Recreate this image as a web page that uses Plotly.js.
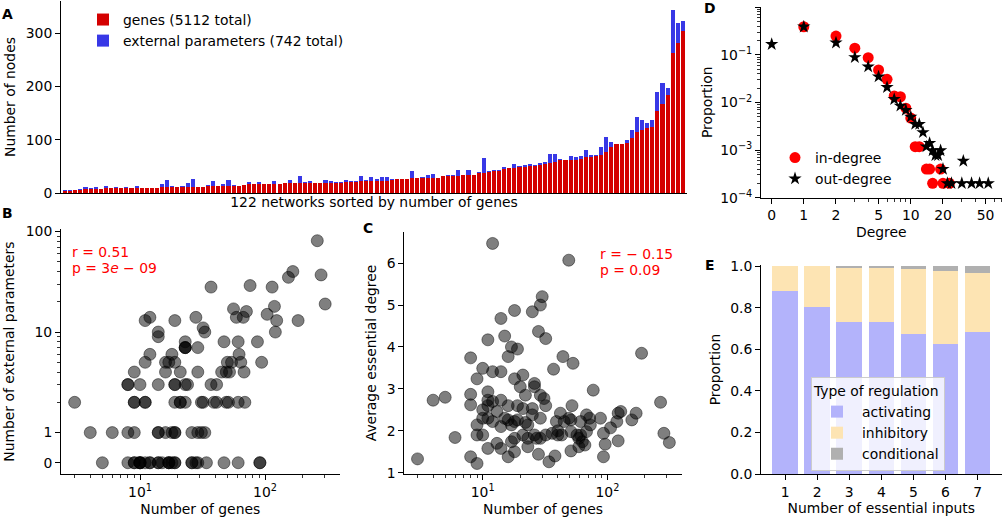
<!DOCTYPE html>
<html><head><meta charset="utf-8">
<script src="https://cdn.plot.ly/plotly-3.0.1.min.js"></script>
<style>html,body{margin:0;padding:0;background:#fff}#chart{width:1003px;height:523px}</style>
</head><body><div id="chart"></div>
<script>
// ---- Panel A / B data: 122 networks sorted by number of genes ----
const genes = [3,4,5,6,8,8,8,8,9,9,9,9,9,9,10,10,10,10,10,11,11,11,11,11,12,12,12,12,14,14,14,14,14,14,14,15,16,16,16,17,17,17,17,18,18,18,19,19,19,19,
19,19,19,19,19,21,21,21,23,23,23,23,23,23,24,26,26,26,28,28,29,29,29,29,31,31,32,32,33,33,34,37,37,39,41,41,45,47,47,49,49,50,51,52,54,56,59,61,61,
61,62,64,67,68,69,71,76,87,91,91,94,104,114,119,121,124,154,167,184,262,281,303];
const extParams = [2,1,0,1,3,1,3,0,4,1,2,0,2,0,3,0,0,0,0,5,13,2,0,2,6,14,0,0,1,9,0,3,10,1,0,0,4,1,5,0,0,5,0,1,6,0,13,2,3,0,
0,5,3,1,1,4,2,2,8,2,7,3,7,7,3,0,0,1,14,0,1,4,7,0,1,2,2,11,1,10,0,3,28,2,3,2,4,0,8,2,4,5,2,4,5,17,14,2,0,
8,6,5,14,4,2,16,29,8,0,0,5,15,28,18,10,13,35,40,13,81,37,19];

// ---- Panel C data ----
const cGenes = [3,4,5,6,8,8,8,8,9,9,9,9,10,10,10,10,11,11,11,11,12,12,12,13,14,14,14,14,14,15,16,16,16,16,17,18,18,18,18,19,19,19,20,21,21,21,22,22,23,23,
25,26,26,25,26,27,28,28,29,30,29,29,31,32,32,32,34,37,38,39,40,40,44,51,51,52,53,49,51,59,61,63,66,61,68,73,68,77,88,93,93,96,106,119,122,128,122,157,170,188,
267,284,314,36,42,43,45,49,57,59,72,18,17,15,13,11,23,25,29,12,11,17];
const cDegree = [1.33,2.73,2.8,1.84,3.74,2.87,2.62,1.38,3.24,2.14,1.9,1.22,3.49,1.9,2.5,2.3,4.17,2.93,2.73,2.3,6.47,3.41,2.7,1.7,4.68,3.41,2.73,2.1,1.58,4.26,3.77,2.6,2.26,1.38,4.0,4.87,3.24,1.5,1.82,3.95,2.6,2.26,3.05,3.33,2.53,1.9,2.85,2.2,1.82,1.62,
4.84,3.13,3.05,2.38,1.9,1.82,1.44,4.37,5.0,5.2,2.85,2.3,2.77,4.2,2.6,1.9,1.26,3.47,1.4,2.22,1.9,2.0,3.77,2.26,1.52,2.6,3.61,6.07,1.98,1.82,1.9,1.74,1.66,2.22,2.38,2.14,1.98,2.97,2.3,1.38,1.94,1.68,2.07,2.22,2.42,2.46,1.76,2.26,2.42,3.85,
2.68,1.94,1.72,1.94,2.42,1.9,2.22,2.3,1.9,1.62,2.3,2.22,2.14,2.3,2.46,2.6,2.14,2.53,1.82,2.22,1.58,1.74];

// ---- Panel D data: degree distributions ----
const inDeg  = [1,2,3,4,5,6,7,8,9,10,11,12,14,15,19,16,20,23];
const inProp = [0.39,0.249,0.138,0.0873,0.0482,0.0307,0.0137,0.0132,0.0076,0.0047,0.00118,0.00118,0.0004,0.0004,0.0004,0.0002,0.0002,0.0002];
const outDeg  = [0,1,2,3,4,5,6,7,8,9,10,11,12,13,14,15,16,17,18,19,20,22,24,31,30,37,44,53];
const outProp = [0.167,0.39,0.18,0.089,0.0566,0.0349,0.0209,0.0117,0.0085,0.0069,0.005,0.0035,0.0035,0.00235,0.00118,0.0014,0.00098,0.00078,0.00078,0.00098,0.0004,0.0002,0.0002,0.00059,0.0002,0.0002,0.0002,0.0002];

// ---- Panel E data ----
const nInputs = [1,2,3,4,5,6,7];
const activating  = [0.878,0.801,0.731,0.732,0.675,0.625,0.683];
const inhibitory  = [0.122,0.199,0.261,0.260,0.309,0.349,0.285];
const conditional = [0.000,0.000,0.008,0.008,0.016,0.026,0.032];

// ---- helpers ----
const W = 1003, H = 523;
const px = x => x / W, py = y => 1 - y / H;
const symT = v => v <= 1 ? 0.3 * v : 0.3 + Math.log10(v);
const FONT = 'DejaVu Sans, sans-serif';
const FS = 13.9;
const idx = genes.map((_, i) => i);

const scatterMarker = {size: 12, color: 'rgba(0,0,0,0.5)', line: {color: 'rgba(0,0,0,0.45)', width: 1}};

const traces = [
  {type: 'bar', x: idx, y: genes, xaxis: 'x', yaxis: 'y', width: 0.8, name: 'genes (5112 total)',
   marker: {color: '#d40000'}, legend: 'legend'},
  {type: 'bar', x: idx, y: extParams, xaxis: 'x', yaxis: 'y', width: 0.8, name: 'external parameters (742 total)',
   marker: {color: '#3838e6'}, legend: 'legend'},
  {type: 'scatter', mode: 'markers', x: genes, y: extParams.map(symT), xaxis: 'x2', yaxis: 'y2',
   marker: scatterMarker, showlegend: false},
  {type: 'scatter', mode: 'markers', x: cGenes, y: cDegree, xaxis: 'x3', yaxis: 'y3',
   marker: scatterMarker, showlegend: false},
  {type: 'scatter', mode: 'markers', x: inDeg.map(symT), y: inProp, xaxis: 'x4', yaxis: 'y4', name: 'in-degree',
   marker: {symbol: 'circle', size: 11, color: '#ff0000'}, legend: 'legend2'},
  {type: 'scatter', mode: 'markers', x: outDeg.map(symT), y: outProp, xaxis: 'x4', yaxis: 'y4', name: 'out-degree',
   marker: {symbol: 'star', size: 10, color: '#000000'}, legend: 'legend2'},
  {type: 'bar', x: nInputs, y: activating, xaxis: 'x5', yaxis: 'y5', width: 0.8, name: 'activating',
   marker: {color: '#b3b3fb'}, legend: 'legend3'},
  {type: 'bar', x: nInputs, y: inhibitory, xaxis: 'x5', yaxis: 'y5', width: 0.8, name: 'inhibitory',
   marker: {color: '#fde4b3'}, legend: 'legend3'},
  {type: 'bar', x: nInputs, y: conditional, xaxis: 'x5', yaxis: 'y5', width: 0.8, name: 'conditional',
   marker: {color: '#b0b0b0'}, legend: 'legend3'}
];

const baseAx = {showline: true, linecolor: '#000', linewidth: 1, mirror: false, showgrid: false, zeroline: false,
  ticks: 'outside', ticklen: 5, tickwidth: 1, tickcolor: '#000', automargin: false,
  tickfont: {family: FONT, size: FS, color: '#000'}};
const ttl = (t, s) => ({text: t, font: {family: FONT, size: FS, color: '#000'}, standoff: s});
const minorOf = vals => ({tickmode: 'array', tickvals: vals, ticks: 'outside', ticklen: 3, tickwidth: 0.8, tickcolor: '#000', showgrid: false});

const logMinorGenes = [3,4,5,6,7,8,9,20,30,40,50,60,70,80,90,200,300];
const bMinor = [2,3,4,5,6,7,8,9,20,30,40,50,60,70,80,90].map(symT);
const dXMinor = [3,4,6,7,8,9,30,40,60,70].map(symT);
const dYMinor = [];
[1e-4,1e-3,1e-2,1e-1].forEach(d => { for (let k = 2; k <= 9; k++) dYMinor.push(k * d); });

const layout = {
  width: W, height: H, margin: {l: 0, r: 0, t: 0, b: 0}, paper_bgcolor: '#fff', plot_bgcolor: 'rgba(0,0,0,0)',
  barmode: 'stack', bargap: 0.2, font: {family: FONT, size: FS, color: '#000'},
  xaxis: Object.assign({}, baseAx, {domain: [px(61), px(687)], anchor: 'y', range: [-0.8, 121.8],
    showticklabels: false, ticks: '', title: ttl('122 networks sorted by number of genes', 4)}),
  yaxis: Object.assign({}, baseAx, {domain: [py(193), py(1)], anchor: 'x', range: [0, 360],
    tickvals: [0, 100, 200, 300], title: ttl('Number of nodes', 6)}),
  xaxis2: Object.assign({}, baseAx, {domain: [px(61), px(339.5)], anchor: 'y2', type: 'log', range: [0.368, 2.596],
    tickvals: [10, 100], ticktext: ['10<sup>1</sup>', '10<sup>2</sup>'], minor: minorOf(logMinorGenes),
    title: ttl('Number of genes', 5)}),
  yaxis2: Object.assign({}, baseAx, {domain: [py(474), py(229.3)], anchor: 'x2', range: [-0.112, 2.322],
    tickvals: [0, 1, 10, 100].map(symT), ticktext: ['0', '1', '10', '100'], minor: minorOf(bMinor),
    title: ttl('Number of external parameters', 7)}),
  xaxis3: Object.assign({}, baseAx, {domain: [px(404.3), px(681.7)], anchor: 'y3', type: 'log', range: [0.371, 2.596],
    tickvals: [10, 100], ticktext: ['10<sup>1</sup>', '10<sup>2</sup>'], minor: minorOf(logMinorGenes),
    title: ttl('Number of genes', 5)}),
  yaxis3: Object.assign({}, baseAx, {domain: [py(474.3), py(231.7)], anchor: 'x3', range: [0.962, 6.75],
    tickvals: [1, 2, 3, 4, 5, 6], title: ttl('Average essential degree', 6)}),
  xaxis4: Object.assign({}, baseAx, {domain: [px(761), px(1001.7)], anchor: 'y4', range: [-0.1, 2.15],
    tickvals: [0, 1, 2, 5, 10, 20, 50].map(symT), ticktext: ['0', '1', '2', '5', '10', '20', '50'],
    minor: minorOf(dXMinor), title: ttl('Degree', 4)}),
  yaxis4: Object.assign({}, baseAx, {domain: [py(197.7), py(6.7)], anchor: 'x4', type: 'log', range: [-4, 0.012],
    tickvals: [1e-4, 1e-3, 1e-2, 1e-1, 1],
    ticktext: ['10<sup>−4</sup>', '10<sup>−3</sup>', '10<sup>−2</sup>', '10<sup>−1</sup>', '10<sup>0</sup>'],
    minor: minorOf(dYMinor), title: ttl('Proportion', 4)}),
  xaxis5: Object.assign({}, baseAx, {domain: [px(761), px(1001.7)], anchor: 'y5', range: [0.25, 7.75],
    tickvals: nInputs, title: ttl('Number of essential inputs', 4)}),
  yaxis5: Object.assign({}, baseAx, {domain: [py(474), py(265)], anchor: 'x5', range: [0, 1.005],
    tickvals: [0, 0.2, 0.4, 0.6, 0.8, 1.0], ticktext: ['0.0', '0.2', '0.4', '0.6', '0.8', '1.0'],
    title: ttl('Proportion', 6)}),
  legend: {x: px(83), y: py(4), xanchor: 'left', yanchor: 'top', traceorder: 'normal', bgcolor: 'rgba(0,0,0,0)',
    font: {family: FONT, size: FS, color: '#000'}, itemwidth: 30},
  legend2: {x: px(775), y: py(142), xanchor: 'left', yanchor: 'top', traceorder: 'normal', bgcolor: 'rgba(0,0,0,0)',
    font: {family: FONT, size: FS, color: '#000'}, itemwidth: 30},
  legend3: {x: px(811), y: py(377), xanchor: 'left', yanchor: 'top', traceorder: 'normal',
    bgcolor: 'rgba(255,255,255,0.8)', bordercolor: '#cccccc', borderwidth: 1,
    title: {text: 'Type of regulation', font: {family: FONT, size: FS, color: '#000'}},
    font: {family: FONT, size: FS, color: '#000'}, itemwidth: 40},
  annotations: [
    {text: '<b>A</b>', x: px(8), y: py(14)},
    {text: '<b>B</b>', x: px(7), y: py(213)},
    {text: '<b>C</b>', x: px(368), y: py(228)},
    {text: '<b>D</b>', x: px(710), y: py(8)},
    {text: '<b>E</b>', x: px(710), y: py(265)},
    {text: 'r = 0.51', x: px(70), y: py(252), xanchor: 'left', font: {family: FONT, size: FS, color: '#ff0000'}},
    {text: 'p = 3<i>e</i> − 09', x: px(70), y: py(268), xanchor: 'left', font: {family: FONT, size: FS, color: '#ff0000'}},
    {text: 'r = − 0.15', x: px(598), y: py(254), xanchor: 'left', font: {family: FONT, size: FS, color: '#ff0000'}},
    {text: 'p = 0.09', x: px(598), y: py(270), xanchor: 'left', font: {family: FONT, size: FS, color: '#ff0000'}}
  ].map(a => Object.assign({xref: 'paper', yref: 'paper', showarrow: false, xanchor: 'center', yanchor: 'middle',
    font: {family: FONT, size: FS, color: '#000'}}, a))
};

Plotly.newPlot('chart', traces, layout, {staticPlot: true, displayModeBar: false});
</script></body></html>
